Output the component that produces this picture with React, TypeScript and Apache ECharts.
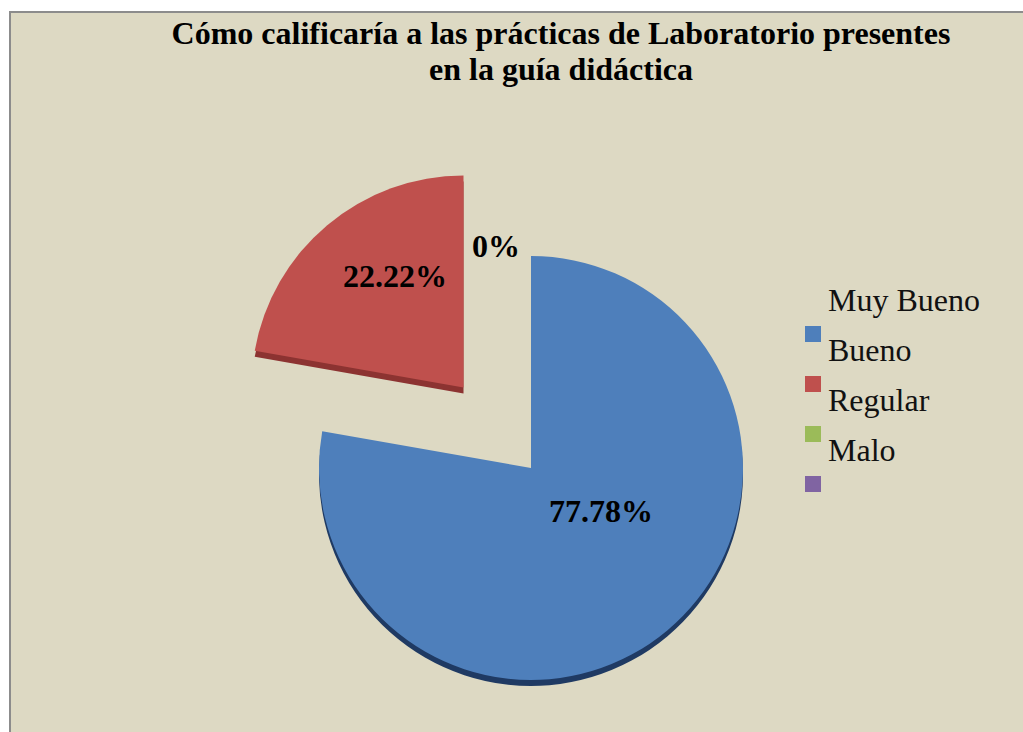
import React, { useEffect, useRef } from "react";
import * as echarts from "echarts";

const categories = ["Muy Bueno", "Bueno", "Regular", "Malo"];
const values = [77.78, 22.22, 0, 0];
const colors = ["#4E7FBB", "#BF504D", "#9BBB59", "#8064A2"];
const depthColors = ["#1F3A63", "#8C3331", "#6F8A3A", "#5A4675"];
const titleText = "Cómo calificaría a las prácticas de Laboratorio presentes\nen la guía didáctica";
const FONT = "'Liberation Serif', 'Times New Roman', serif";

export default function App() {
  const ref = useRef<HTMLDivElement>(null);
  useEffect(() => {
    const chart = echarts.init(ref.current!, null, { renderer: "svg" });
    const labelPos: any[] = [
      { x: 601, y: 511, align: "center", verticalAlign: "middle" },
      { x: 395, y: 276, align: "center", verticalAlign: "middle" },
      { x: 496, y: 246, align: "center", verticalAlign: "middle" },
      {},
    ];
    const pie = (palette: string[], cy: number, z: number, isLabelLayer: boolean) => ({
      type: "pie",
      z,
      center: [531, cy],
      radius: [0, 212],
      startAngle: 90,
      clockwise: true,
      animation: false,
      selectedMode: "multiple",
      selectedOffset: 105,
      silent: true,
      percentPrecision: 2,
      stillShowZeroSum: true,
      emphasis: { disabled: true },
      labelLine: { show: false },
      label: {
        show: isLabelLayer,
        position: "inside",
        formatter: "{c}%",
        fontFamily: FONT,
        fontSize: 32,
        fontWeight: "bold",
        color: "#000",
      },
      labelLayout: isLabelLayer ? (p: any) => labelPos[p.dataIndex] : undefined,
      data: categories.map((name, i) => ({
        name,
        value: values[i],
        selected: !isLabelLayer && i === 1,
        itemStyle: { color: isLabelLayer ? "rgba(0,0,0,0)" : palette[i] },
        label: { show: isLabelLayer && i !== 3 },
      })),
    });
    chart.setOption({
      animation: false,
      backgroundColor: "#FFFFFF",
      title: {
        text: titleText,
        left: 561,
        top: 15,
        padding: 0,
        textAlign: "center",
        textStyle: {
          fontFamily: FONT,
          fontSize: 32,
          fontWeight: "bold",
          color: "#000",
          lineHeight: 36,
        },
      },
      legend: [
        {
          data: categories,
          orient: "vertical",
          left: 805,
          top: 326,
          padding: 0,
          icon: "rect",
          itemWidth: 16,
          itemHeight: 16,
          itemGap: 34,
          selectedMode: false,
          formatter: () => " ",
          textStyle: { fontSize: 10 },
        },
        {
          data: categories,
          orient: "vertical",
          left: 823,
          top: 275,
          padding: 0,
          icon: "rect",
          itemWidth: 0,
          itemHeight: 0,
          itemGap: 0,
          selectedMode: false,
          itemStyle: { opacity: 0 },
          textStyle: { fontFamily: FONT, fontSize: 32, color: "#111", lineHeight: 50 },
        },
      ],
      graphic: [
        {
          type: "rect",
          z: -10,
          silent: true,
          shape: { x: 10, y: 12, width: 1100, height: 800 },
          style: { fill: "#DDD9C3", stroke: "#8C8C8C", lineWidth: 2 },
        },
      ],
      series: [
        pie(colors, 468, 3, false),
        pie(depthColors, 474, 2, false),
        pie(colors, 468, 4, true),
      ],
    });
    return () => chart.dispose();
  }, []);
  return (
    <div
      ref={ref}
      style={{ position: "absolute", left: 0, top: 0, width: 1023, height: 732 }}
    />
  );
}
